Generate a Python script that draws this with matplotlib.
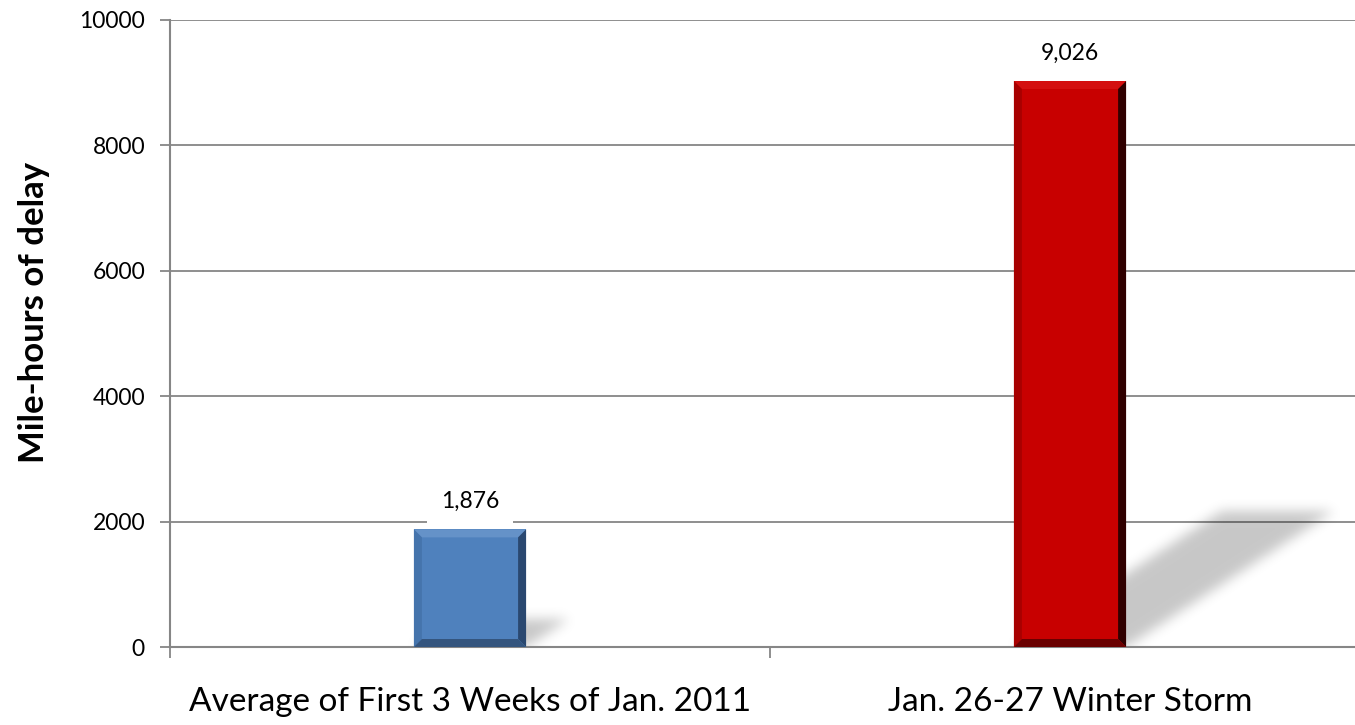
import numpy as np
import matplotlib.pyplot as plt
from matplotlib.patches import Polygon
from matplotlib.path import Path

categories = ['Average of First 3 Weeks of Jan. 2011', 'Jan. 26-27 Winter Storm']
delay = [1876, 9026]
bar_labels = ['1,876', '9,026']
colors = ['#4F81BD', '#C80000']
yticks = [0, 2000, 4000, 6000, 8000, 10000]

plt.rcParams['font.family'] = ['Lato', 'DejaVu Sans']
GRAY = '#868686'

fig = plt.figure(figsize=(13.55, 7.25), dpi=100)
ax = fig.add_axes([170 / 1355, 1 - 647 / 725, 1200 / 1355, 627 / 725])
ax.set_xlim(-0.5, 1.5)
ax.set_ylim(0, 10000)

x = np.arange(len(categories))
width = 0.187
bars = ax.bar(x, delay, width, color=colors, zorder=3)

# soft shadow thrown up-right, computed on a pixel grid and blurred
nx, ny = 1200, 627
gx = -0.5 + (np.arange(nx) + 0.5) * 2 / nx
gy = (np.arange(ny) + 0.5) * 10000 / ny
GX, GY = np.meshgrid(gx, gy)
pts = np.column_stack([GX.ravel(), GY.ravel()])
mask = np.zeros(GX.shape)
for b in bars:
    x0, w, h = b.get_x(), b.get_width(), b.get_height()
    dx, dy = h * 3.835e-5, 0.24 * h
    p = Path([(x0, 0), (x0 + w, 0), (x0 + w + dx, dy), (x0 + dx, dy)])
    mask = np.maximum(mask, p.contains_points(pts).reshape(GX.shape).astype(float))
k = np.exp(-0.5 * (np.arange(-18, 19) / 6.0) ** 2)
k /= k.sum()
mask = np.apply_along_axis(lambda r: np.convolve(r, k, mode='same'), 1, mask)
mask = np.apply_along_axis(lambda c: np.convolve(c, k, mode='same'), 0, mask)
rgba = np.zeros((ny, nx, 4))
rgba[..., 3] = mask * 0.22
ax.imshow(rgba, origin='lower', extent=(-0.5, 1.5, 0, 10000), aspect='auto',
          zorder=1.5, interpolation='bilinear')

# bevel on each bar
shades = {
    '#4F81BD': ['#6592C8', '#4574AC', '#2A4870', '#34557E'],
    '#C80000': ['#D41010', '#A80000', '#300000', '#6A0000'],
}
bx, by = 8 / 600, 8 * 10000 / 627
for b, c in zip(bars, colors):
    x0, w, h = b.get_x(), b.get_width(), b.get_height()
    x1 = x0 + w
    top, left, right, bottom = shades[c]
    ax.add_patch(Polygon([(x0, h), (x1, h), (x1 - bx, h - by), (x0 + bx, h - by)],
                         color=top, lw=0, zorder=4))
    ax.add_patch(Polygon([(x0, 0), (x0 + bx, by), (x0 + bx, h - by), (x0, h)],
                         color=left, lw=0, zorder=4))
    ax.add_patch(Polygon([(x1, 0), (x1, h), (x1 - bx, h - by), (x1 - bx, by)],
                         color=right, lw=0, zorder=4))
    ax.add_patch(Polygon([(x0, 0), (x1, 0), (x1 - bx, by), (x0 + bx, by)],
                         color=bottom, lw=0, zorder=4))

for xi, v, lab in zip(x, delay, bar_labels):
    ax.text(xi, v + 440, lab, ha='center', va='center', fontsize=16.5, color='black',
            zorder=5, bbox=dict(boxstyle='square,pad=0.6', fc='white', ec='none'))

ax.set_yticks(yticks)
ax.yaxis.grid(True, color=GRAY, lw=1.3)
ax.set_axisbelow(True)
ax.tick_params(axis='y', length=7, width=1.3, color=GRAY, labelsize=16.5, pad=11)

ax.set_xticks(x)
ax.set_xticklabels(categories, fontsize=24)
ax.set_xticks([-0.5, 0.5, 1.5], minor=True)
ax.tick_params(axis='x', which='major', length=0, pad=29)
ax.tick_params(axis='x', which='minor', length=8, width=1.3, color=GRAY)

for s in ['top', 'right']:
    ax.spines[s].set_visible(False)
for s in ['left', 'bottom']:
    ax.spines[s].set_color(GRAY)
    ax.spines[s].set_linewidth(1.5)

ax.set_ylabel('Mile-hours of delay', fontsize=25, fontweight='bold')
ax.yaxis.set_label_coords(-0.1, 0.534)

fig.savefig('out.png', dpi=100)
